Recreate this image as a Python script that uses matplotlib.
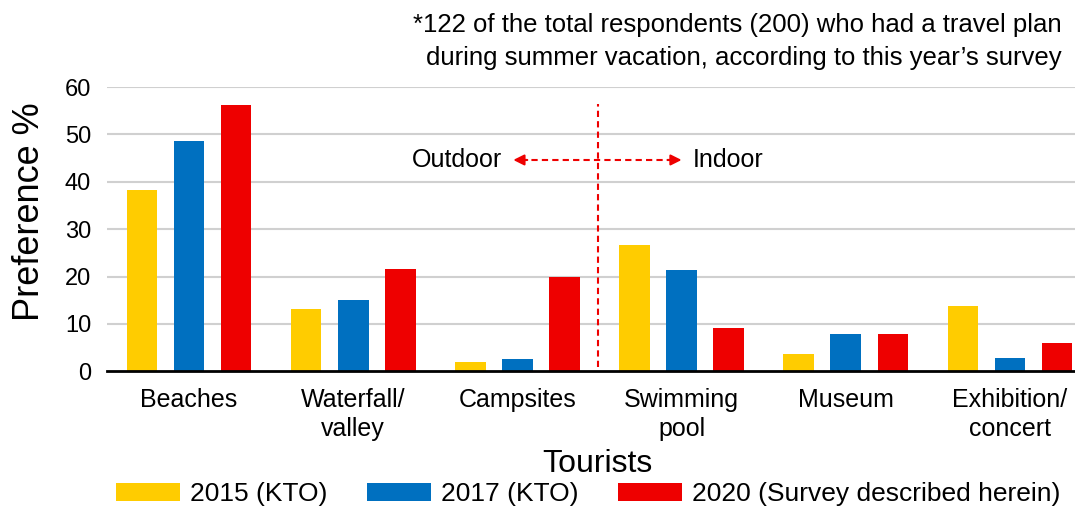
import matplotlib
matplotlib.use("Agg")
import matplotlib.pyplot as plt
import numpy as np

categories = ["Beaches", "Waterfall/\nvalley", "Campsites", "Swimming\npool", "Museum", "Exhibition/\nconcert"]
series_names = ["2015 (KTO)", "2017 (KTO)", "2020 (Survey described herein)"]
vals_2015 = [38.2, 13.1, 2.0, 26.6, 3.7, 13.8]
vals_2017 = [48.6, 15.1, 2.7, 21.3, 7.9, 2.9]
vals_2020 = [56.2, 21.6, 19.9, 9.1, 7.9, 5.9]
yticks = [0, 10, 20, 30, 40, 50, 60]
colors = ["#FFCC00", "#0070C0", "#EE0000"]

plt.rcParams['font.family'] = ['Liberation Sans', 'DejaVu Sans']

W, H = 1075, 511
fig = plt.figure(figsize=(W / 100, H / 100), dpi=100)
ax_left, ax_right = 107, 1092
y0_px, y60_px = 371.3, 87
ax = fig.add_axes([ax_left / W, 1 - y0_px / H, (ax_right - ax_left) / W, (y0_px - y60_px) / H])

x = np.arange(len(categories))
offset = 0.287
width = 0.186
for i, (vals, name, c) in enumerate(zip([vals_2015, vals_2017, vals_2020], series_names, colors)):
    ax.bar(x + (i - 1) * offset, vals, width=width, color=c, label=name, zorder=3)

ax.set_xlim(-0.5, len(categories) - 0.5)
ax.set_ylim(0, 60)
ax.set_yticks(yticks)
ax.set_yticklabels([str(t) for t in yticks], fontsize=17)
ax.set_xticks(x)
ax.set_xticklabels(categories, fontsize=18, linespacing=1.24)
ax.tick_params(axis='both', length=0)
ax.tick_params(axis='y', pad=11.5)
ax.tick_params(axis='x', pad=12)
ax.yaxis.grid(True, color='#D0D0D0', linewidth=1.5, zorder=0)
ax.set_axisbelow(True)
for s in ['left', 'right', 'top']:
    ax.spines[s].set_visible(False)
ax.spines['bottom'].set_color('black')
ax.spines['bottom'].set_linewidth(2)
ax.spines['bottom'].set_zorder(4)
ax.yaxis.get_gridlines()[0].set_visible(False)

# divider and arrows
ax.plot([2.49, 2.49], [1.0, 56.5], color='#EE0000', linestyle=(0, (3, 2)), linewidth=1.5, zorder=5)
ax.plot([2.02, 2.96], [44.6, 44.6], color='#EE0000', linestyle=(0, (3, 2)), linewidth=1.5, zorder=5)
ax.annotate('', xy=(1.975, 44.6), xytext=(2.06, 44.6),
            arrowprops=dict(arrowstyle='-|>', color='#EE0000', lw=1.5, mutation_scale=16, shrinkA=0, shrinkB=0))
ax.annotate('', xy=(3.0, 44.6), xytext=(2.915, 44.6),
            arrowprops=dict(arrowstyle='-|>', color='#EE0000', lw=1.5, mutation_scale=16, shrinkA=0, shrinkB=0))
ax.text(1.904, 44.6, "Outdoor", ha='right', va='center', fontsize=18)
ax.text(3.071, 44.6, "Indoor", ha='left', va='center', fontsize=18)

fig.text(30 / W, 1 - 211.7 / H, "Preference %", rotation=90, ha='center', va='center', fontsize=26)
fig.text(597.5 / W, 1 - 464 / H, "Tourists", ha='center', va='center', fontsize=23)
fig.text(1062 / W, 1 - 25 / H, "*122 of the total respondents (200) who had a travel plan",
         ha='right', va='center', fontsize=18.5)
fig.text(1062 / W, 1 - 58 / H, "during summer vacation, according to this year\u2019s survey",
         ha='right', va='center', fontsize=18.5)

handles, labels = ax.get_legend_handles_labels()
fig.legend(handles, labels, loc='center', bbox_to_anchor=(588.5 / W, 1 - 494 / H), ncol=3,
           frameon=False, fontsize=19, handlelength=2.4, handleheight=0.65,
           handletextpad=0.4, columnspacing=1.5, borderpad=0, borderaxespad=0)

fig.savefig("out.png", dpi=100)
